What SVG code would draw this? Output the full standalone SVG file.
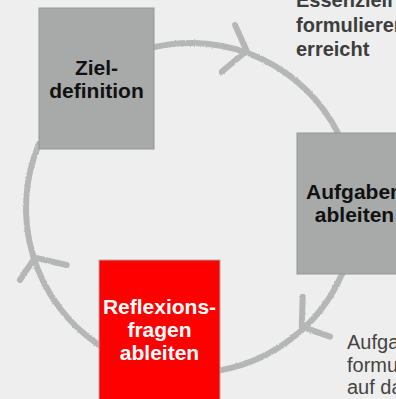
<svg xmlns="http://www.w3.org/2000/svg" width="396" height="399" viewBox="0 0 396 399">
  <defs>
    <filter id="chalk" x="-10%" y="-10%" width="120%" height="120%">
      <feTurbulence type="fractalNoise" baseFrequency="0.9" numOctaves="2" seed="3" result="noise"/>
      <feDisplacementMap in="SourceGraphic" in2="noise" scale="2.2" xChannelSelector="R" yChannelSelector="G"/>
    </filter>
  </defs>
  <style>
    .bg { fill: #eeeeee; }
    .box { fill: #a7aaa9; stroke: #939695; stroke-width: 1; }
    .red { fill: #ff0000; stroke: #a9a9a9; stroke-width: 1; }
    .lbl { font-family: "Liberation Sans", Arial, sans-serif; font-weight: bold; font-size: 21px; text-anchor: middle; fill: #111111; }
    .lblw { fill: #ffffff; }
    .note { font-family: "Liberation Sans", Arial, sans-serif; font-weight: bold; font-size: 20px; fill: #3d3d3d; }
    .note2 { font-family: "Liberation Sans", Arial, sans-serif; font-size: 20px; fill: #444444; }
    .conn { fill: none; stroke: #b5b7b6; stroke-width: 6; stroke-linecap: round; stroke-linejoin: round; filter: url(#chalk); }
  </style>
  <rect class="bg" x="0" y="0" width="396" height="399"/>

  <g id="connectors">
    <path class="conn" d="M154,47.2 A165,165 0 0 1 338,133"/>
    <path class="conn" d="M235,25 L246.7,50.7 L221.7,71.7"/>
    <path class="conn" d="M342,274 A165,165 0 0 1 220,370.4"/>
    <path class="conn" d="M302.7,296.7 L301.7,326.7 L330,336.7"/>
    <path class="conn" d="M99,345 A165,165 0 0 1 39,143.8"/>
    <path class="conn" d="M66.7,265 L35,257.7 L20,280"/>
  </g>

  <g id="node-zieldefinition">
    <rect class="box" x="39" y="8" width="115" height="141"/>
    <text class="lbl" x="96.5" y="75">Ziel-</text>
    <text class="lbl" x="96.5" y="97.5">definition</text>
  </g>

  <g id="node-aufgaben">
    <rect class="box" x="297" y="133" width="115" height="141"/>
    <text class="lbl" x="354.5" y="199">Aufgaben</text>
    <text class="lbl" x="354.5" y="221.5">ableiten</text>
  </g>

  <g id="node-reflexionsfragen">
    <rect class="red" x="99" y="260" width="121" height="145"/>
    <text class="lbl lblw" x="159.5" y="314.3">Reflexions-</text>
    <text class="lbl lblw" x="159.5" y="337">fragen</text>
    <text class="lbl lblw" x="159.5" y="359.5">ableiten</text>
  </g>

  <g id="note-top">
    <text class="note" x="296" y="7">Essenziell</text>
    <text class="note" x="296" y="32">formulieren</text>
    <text class="note" x="296" y="55.5">erreicht</text>
  </g>

  <g id="note-bottom">
    <text class="note2" x="347" y="349">Aufgaben</text>
    <text class="note2" x="347" y="371.5">formulieren</text>
    <text class="note2" x="347" y="394">auf das</text>
  </g>
</svg>
